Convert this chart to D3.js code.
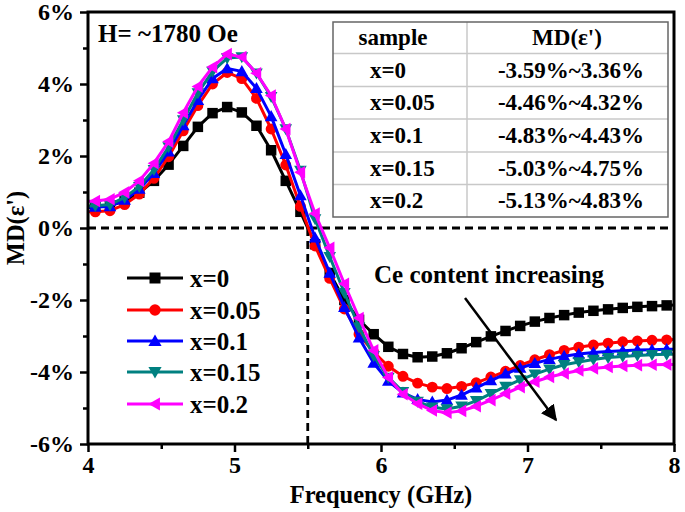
<!DOCTYPE html>
<html><head><meta charset="utf-8">
<script src="https://cdn.jsdelivr.net/npm/d3@7"></script>
<style>body{margin:0;background:#fff;}svg{display:block;}</style>
</head><body>
<svg id="chart" width="685" height="512"></svg>
<script>
const freq = [4.0,4.05,4.15,4.25,4.35,4.45,4.55,4.65,4.75,4.85,4.95,5.05,5.15,5.25,5.35,5.45,5.55,5.65,5.75,5.85,5.95,6.05,6.15,6.25,6.35,6.45,6.55,6.65,6.75,6.85,6.95,7.05,7.15,7.25,7.35,7.45,7.55,7.65,7.75,7.85,7.95,8.0];
const x0   = [0.57,0.58,0.62,0.75,0.98,1.31,1.76,2.28,2.81,3.19,3.36,3.21,2.84,2.16,1.31,0.45,-0.45,-1.25,-2.00,-2.55,-2.95,-3.30,-3.50,-3.59,-3.57,-3.48,-3.34,-3.17,-3.01,-2.86,-2.72,-2.60,-2.50,-2.42,-2.35,-2.30,-2.26,-2.22,-2.19,-2.17,-2.15,-2.14];
const x005 = [0.45,0.45,0.48,0.65,0.94,1.38,1.98,2.70,3.40,4.00,4.32,4.15,3.60,2.75,1.75,0.60,-0.50,-1.40,-2.25,-2.95,-3.45,-3.84,-4.12,-4.31,-4.42,-4.46,-4.40,-4.30,-4.14,-3.98,-3.82,-3.66,-3.52,-3.40,-3.31,-3.25,-3.20,-3.16,-3.14,-3.12,-3.11,-3.10];
const x01  = [0.57,0.58,0.60,0.78,1.08,1.52,2.12,2.85,3.55,4.15,4.43,4.35,3.88,3.10,2.05,0.90,-0.27,-1.25,-2.20,-3.05,-3.75,-4.25,-4.58,-4.76,-4.83,-4.78,-4.64,-4.44,-4.24,-4.05,-3.89,-3.76,-3.65,-3.56,-3.50,-3.46,-3.43,-3.41,-3.39,-3.38,-3.37,-3.37];
const x015 = [0.61,0.62,0.65,0.85,1.15,1.62,2.25,3.00,3.75,4.35,4.72,4.75,4.30,3.65,2.75,1.60,0.25,-0.80,-1.80,-2.75,-3.55,-4.15,-4.55,-4.82,-4.98,-5.03,-4.95,-4.80,-4.60,-4.40,-4.22,-4.06,-3.92,-3.80,-3.72,-3.65,-3.60,-3.57,-3.54,-3.52,-3.51,-3.51];
const x02  = [0.74,0.75,0.80,0.99,1.31,1.80,2.40,3.20,3.93,4.47,4.83,4.75,4.30,3.68,2.75,1.55,0.40,-0.55,-1.55,-2.50,-3.40,-4.15,-4.62,-4.88,-5.07,-5.13,-5.08,-4.95,-4.78,-4.60,-4.42,-4.27,-4.14,-4.04,-3.96,-3.90,-3.86,-3.83,-3.81,-3.80,-3.79,-3.79];
const seriesNames = ["x=0","x=0.05","x=0.1","x=0.15","x=0.2"];
const seriesColors = ["#000000","#ff0000","#0000ff","#008080","#ff00ff"];
const seriesMarkers = ["square","circle","up","down","left"];
const xTicks = [4,5,6,7,8];
const yTicks = [-6,-4,-2,0,2,4,6];
const tableSamples = ["x=0","x=0.05","x=0.1","x=0.15","x=0.2"];
const tableRanges = ["-3.59%~3.36%","-4.46%~4.32%","-4.83%~4.43%","-5.03%~4.75%","-5.13%~4.83%"];
const zeroCrossFreq = 5.5;

const allSeries = [x0,x005,x01,x015,x02];
const FONT = "'Liberation Serif','Times New Roman',serif";
const svg = d3.select("#chart");
const L=88,R=674,T=12,B=444;
const xs = d3.scaleLinear().domain([4,8]).range([L,R]);
const ys = d3.scaleLinear().domain([-6,6]).range([B,T]);

// dashed reference lines
svg.append("line").attr("x1",L).attr("x2",R).attr("y1",ys(0)).attr("y2",ys(0))
  .attr("stroke","#000").attr("stroke-width",2.8).attr("stroke-dasharray","8,5");
svg.append("line").attr("x1",xs(zeroCrossFreq)).attr("x2",xs(zeroCrossFreq)).attr("y1",ys(0)).attr("y2",B)
  .attr("stroke","#000").attr("stroke-width",2.8).attr("stroke-dasharray","8,5");

// markers
function markerPath(type, size){
  const s=size;
  if(type==="square") return `M${-s/2},${-s/2}h${s}v${s}h${-s}Z`;
  if(type==="circle") return d3.symbol().type(d3.symbolCircle).size(s*s*0.85)();
  const h=s*0.6;
  if(type==="up") return `M0,${-h}L${h},${h*0.75}L${-h},${h*0.75}Z`;
  if(type==="down") return `M0,${h}L${h},${-h*0.75}L${-h},${-h*0.75}Z`;
  if(type==="left") return `M${-h},0L${h*0.75},${-h}L${h*0.75},${h}Z`;
}

const line = d3.line().x((d,i)=>xs(freq[i])).y(d=>ys(d));
allSeries.forEach((vals,si)=>{
  const g = svg.append("g");
  g.append("path").attr("d",line(vals)).attr("fill","none")
    .attr("stroke",seriesColors[si]).attr("stroke-width",3).attr("stroke-linejoin","round");
  vals.forEach((v,i)=>{
    if(i===0||i===vals.length-1) return;
    g.append("path").attr("d",markerPath(seriesMarkers[si],10.5))
      .attr("transform",`translate(${xs(freq[i])},${ys(v)})`)
      .attr("fill",seriesColors[si]);
  });
});

// frame
svg.append("rect").attr("x",L).attr("y",T).attr("width",R-L).attr("height",B-T)
  .attr("fill","none").attr("stroke","#000").attr("stroke-width",3);

// axes
const xAxis = d3.axisBottom(xs).tickValues(xTicks).tickSize(8).tickFormat(d3.format("d"));
const gx = svg.append("g").attr("transform",`translate(0,${B})`).call(xAxis);
gx.select(".domain").remove();
gx.selectAll(".tick line").attr("stroke-width",2.5);
gx.selectAll("text").attr("font-family",FONT).attr("font-weight","bold").attr("font-size",24).attr("dy","0.95em").attr("y",6);
const xMinor = d3.axisBottom(xs).tickValues([4.5,5.5,6.5,7.5]).tickSize(5).tickFormat("");
const gxm = svg.append("g").attr("transform",`translate(0,${B})`).call(xMinor);
gxm.select(".domain").remove(); gxm.selectAll(".tick line").attr("stroke-width",2.5);

const yAxis = d3.axisLeft(ys).tickValues(yTicks).tickSize(8).tickFormat(d=>d+"%");
const gy = svg.append("g").attr("transform",`translate(${L},0)`).call(yAxis);
gy.select(".domain").remove();
gy.selectAll(".tick line").attr("stroke-width",2.5);
gy.selectAll("text").attr("font-family",FONT).attr("font-weight","bold").attr("font-size",24).attr("x",-14);
const yMinor = d3.axisLeft(ys).tickValues([-5,-3,-1,1,3,5]).tickSize(5).tickFormat("");
const gym = svg.append("g").attr("transform",`translate(${L},0)`).call(yMinor);
gym.select(".domain").remove(); gym.selectAll(".tick line").attr("stroke-width",2.5);

// axis titles
svg.append("text").attr("x",xs(6)).attr("y",503).attr("text-anchor","middle")
  .attr("font-family",FONT).attr("font-weight","bold").attr("font-size",24.5).text("Frequency (GHz)");
svg.append("text").attr("transform",`translate(24,${ys(0)}) rotate(-90)`).attr("text-anchor","middle")
  .attr("font-family",FONT).attr("font-weight","bold").attr("font-size",24.5).text("MD(ε')");

// field label
svg.append("text").attr("x",98).attr("y",42).attr("font-family",FONT).attr("font-weight","bold")
  .attr("font-size",25).text("H= ~1780 Oe");

// table
const tx0=333, tx1=467, tx2=668;
const rowYs=[22,53.5,86.5,119,152,184.5,217];
const tg = svg.append("g");
rowYs.slice(1,-1).forEach(y=>tg.append("line").attr("x1",tx0).attr("x2",tx2).attr("y1",y).attr("y2",y).attr("stroke","#c8c8c8").attr("stroke-width",1.5));
tg.append("line").attr("x1",tx1).attr("x2",tx1).attr("y1",rowYs[0]).attr("y2",rowYs[6]).attr("stroke","#c8c8c8").attr("stroke-width",1.5);
tg.append("rect").attr("x",tx0).attr("y",rowYs[0]).attr("width",tx2-tx0).attr("height",rowYs[6]-rowYs[0])
  .attr("fill","none").attr("stroke","#666").attr("stroke-width",1.5);
const cellText=(x,y,t,anchor)=>tg.append("text").attr("x",x).attr("y",y).attr("text-anchor",anchor)
  .attr("dominant-baseline","central").attr("font-family",FONT).attr("font-weight","bold").attr("font-size",23).text(t);
cellText(393,(rowYs[0]+rowYs[1])/2,"sample","middle");
cellText(567,(rowYs[0]+rowYs[1])/2,"MD(ε')","middle");
tableSamples.forEach((s,i)=>{
  const yc=(rowYs[i+1]+rowYs[i+2])/2;
  cellText(370,yc,s,"start");
  cellText(571,yc,tableRanges[i],"middle");
});

// legend
const lg = svg.append("g");
[278,310,341,372,404].forEach((y,i)=>{
  lg.append("line").attr("x1",127).attr("x2",183).attr("y1",y).attr("y2",y).attr("stroke",seriesColors[i]).attr("stroke-width",3);
  lg.append("path").attr("d",markerPath(seriesMarkers[i],11)).attr("transform",`translate(155,${y})`).attr("fill",seriesColors[i]);
  lg.append("text").attr("x",190).attr("y",y).attr("dominant-baseline","central").attr("font-family",FONT)
    .attr("font-weight","bold").attr("font-size",25).text(seriesNames[i]);
});

// annotation
svg.append("text").attr("x",374).attr("y",283).attr("font-family",FONT).attr("font-weight","bold")
  .attr("font-size",25).text("Ce content increasing");
svg.append("defs").append("marker").attr("id","arr").attr("viewBox","0 0 10 10").attr("refX",9).attr("refY",5)
  .attr("markerWidth",16).attr("markerHeight",16).attr("orient","auto").attr("markerUnits","userSpaceOnUse")
  .append("path").attr("d","M0,0L10,5L0,10Z").attr("fill","#000");
svg.append("line").attr("x1",465).attr("y1",298).attr("x2",556).attr("y2",420)
  .attr("stroke","#000").attr("stroke-width",2.5).attr("marker-end","url(#arr)");
</script>
</body></html>
